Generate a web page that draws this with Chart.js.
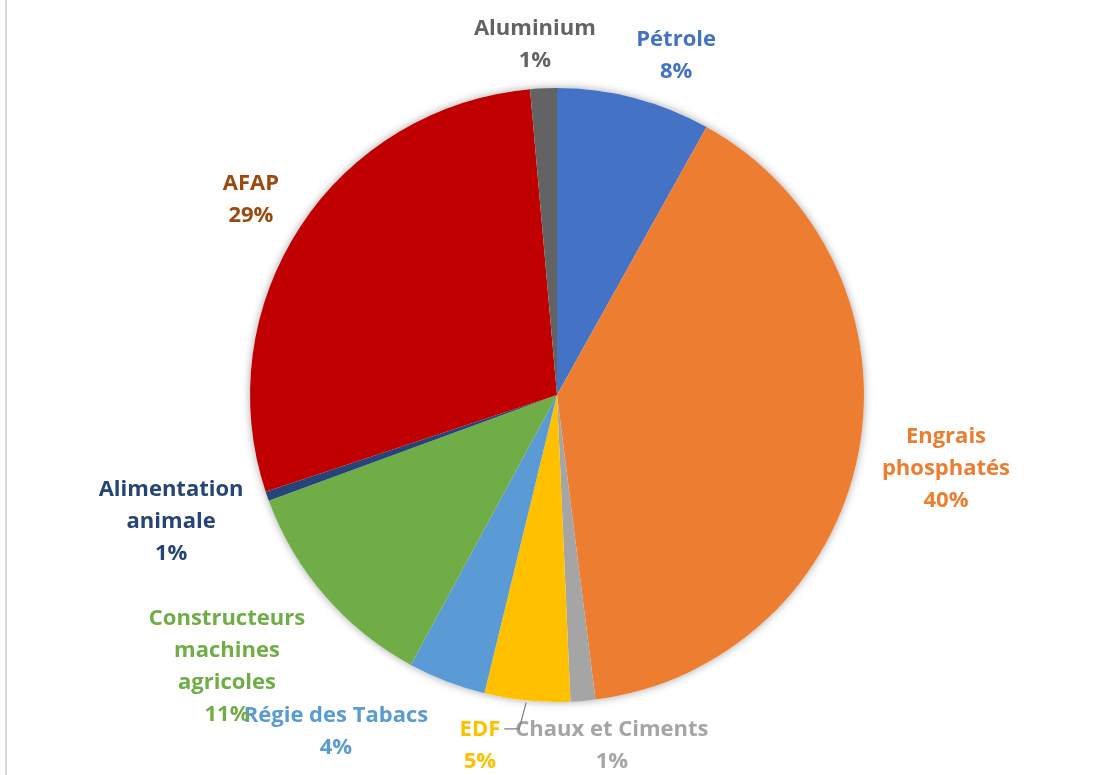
<!DOCTYPE html>
<html>
<head>
<meta charset="utf-8">
<script src="https://cdn.jsdelivr.net/npm/chart.js@4/dist/chart.umd.min.js"></script>
<style>
  html, body { margin: 0; padding: 0; background: #fff; }
  #wrap { width: 1104px; height: 775px; }
</style>
</head>
<body>
<div id="wrap"><canvas id="pie"></canvas></div>
<script>
// Data (percent of total)
const categories = ['Pétrole', 'Engrais phosphatés', 'Chaux et Ciments', 'EDF', 'Régie des Tabacs',
  'Constructeurs machines agricoles', 'Alimentation animale', 'AFAP', 'Aluminium'];
const shares = [8.1, 39.9, 1.3, 4.5, 4.1, 11.5, 0.5, 28.7, 1.4];
const shareLabels = ['8%', '40%', '1%', '5%', '4%', '11%', '1%', '29%', '1%'];

// How each category name wraps in the label
const nameLines = [
  ['Pétrole'],
  ['Engrais', 'phosphatés'],
  ['Chaux et Ciments'],
  ['EDF'],
  ['Régie des Tabacs'],
  ['Constructeurs', 'machines', 'agricoles'],
  ['Alimentation', 'animale'],
  ['AFAP'],
  ['Aluminium']
];

const sliceColors = ['#4472C4', '#ED7D31', '#A5A5A5', '#FFC000', '#5B9BD5', '#70AD47', '#264478', '#C00000', '#636363'];
const textColors = ['#4472C4', '#ED7D31', '#A5A5A5', '#FFC000', '#5B9BD5', '#70AD47', '#264478', '#9E480E', '#636363'];

// Label block centres, in pie radii from the pie centre
const labelSpots = [
  [0.388, -1.104], [1.267, 0.241], [0.179, 1.143], [-0.251, 1.143], [-0.72, 1.098],
  [-1.075, 0.886], [-1.257, 0.414], [-0.997, -0.635], [-0.072, -1.14]
];

const FONT = 'bold 22px "Open Sans", sans-serif';
const LINE_H = 32;

// Soft shadow under the whole pie and the left frame line
const pieShadow = {
  id: 'pieShadow',
  beforeDatasetsDraw: (chart) => {
    const ctx = chart.ctx;
    const arc = chart.getDatasetMeta(0).data[0];
    if (!arc) return;
    ctx.save();
    ctx.strokeStyle = '#D9D9D9';
    ctx.lineWidth = 2;
    ctx.beginPath();
    ctx.moveTo(6, 0);
    ctx.lineTo(6, chart.height);
    ctx.stroke();

    ctx.shadowColor = 'rgba(0, 0, 0, 0.35)';
    ctx.shadowBlur = 9;
    ctx.fillStyle = '#fff';
    ctx.beginPath();
    ctx.arc(arc.x, arc.y, arc.outerRadius, 0, Math.PI * 2);
    ctx.fill();
    ctx.restore();
  }
};

// Outside labels: name lines + percent
const outsideLabels = {
  id: 'outsideLabels',
  afterDatasetsDraw: (chart) => {
    const ctx = chart.ctx;
    const arcs = chart.getDatasetMeta(0).data;
    ctx.save();
    ctx.font = FONT;
    ctx.textAlign = 'center';
    ctx.textBaseline = 'middle';
    arcs.forEach((arc, i) => {
      const r = arc.outerRadius;
      const cx = arc.x + labelSpots[i][0] * r;
      const cy = arc.y + labelSpots[i][1] * r;
      const lines = nameLines[i].concat([shareLabels[i]]);
      const top = cy - (lines.length - 1) * LINE_H / 2;

      // leader line for EDF
      if (categories[i] === 'EDF') {
        const mid = (arc.startAngle + arc.endAngle) / 2;
        const ex = arc.x + Math.cos(mid) * r;
        const ey = arc.y + Math.sin(mid) * r;
        const w = ctx.measureText(lines[0]).width;
        ctx.strokeStyle = '#7F7F7F';
        ctx.lineWidth = 1.2;
        ctx.beginPath();
        ctx.moveTo(ex - 1, ey + 2);
        ctx.lineTo(ex - 8, top - 1);
        ctx.lineTo(cx + w / 2 + 4, top - 1);
        ctx.stroke();
      }

      ctx.fillStyle = textColors[i];
      lines.forEach((t, k) => ctx.fillText(t, cx, top + k * LINE_H));
    });
    ctx.restore();
  }
};

new Chart(document.getElementById('pie'), {
  type: 'pie',
  data: {
    labels: categories,
    datasets: [{
      data: shares,
      backgroundColor: sliceColors,
      borderWidth: 0
    }]
  },
  options: {
    responsive: true,
    maintainAspectRatio: false,
    animation: false,
    rotation: 0,
    layout: { padding: { top: 88, bottom: 73, left: 250, right: 240 } },
    plugins: {
      legend: { display: false },
      tooltip: { enabled: false }
    }
  },
  plugins: [pieShadow, outsideLabels]
});
</script>
</body>
</html>
